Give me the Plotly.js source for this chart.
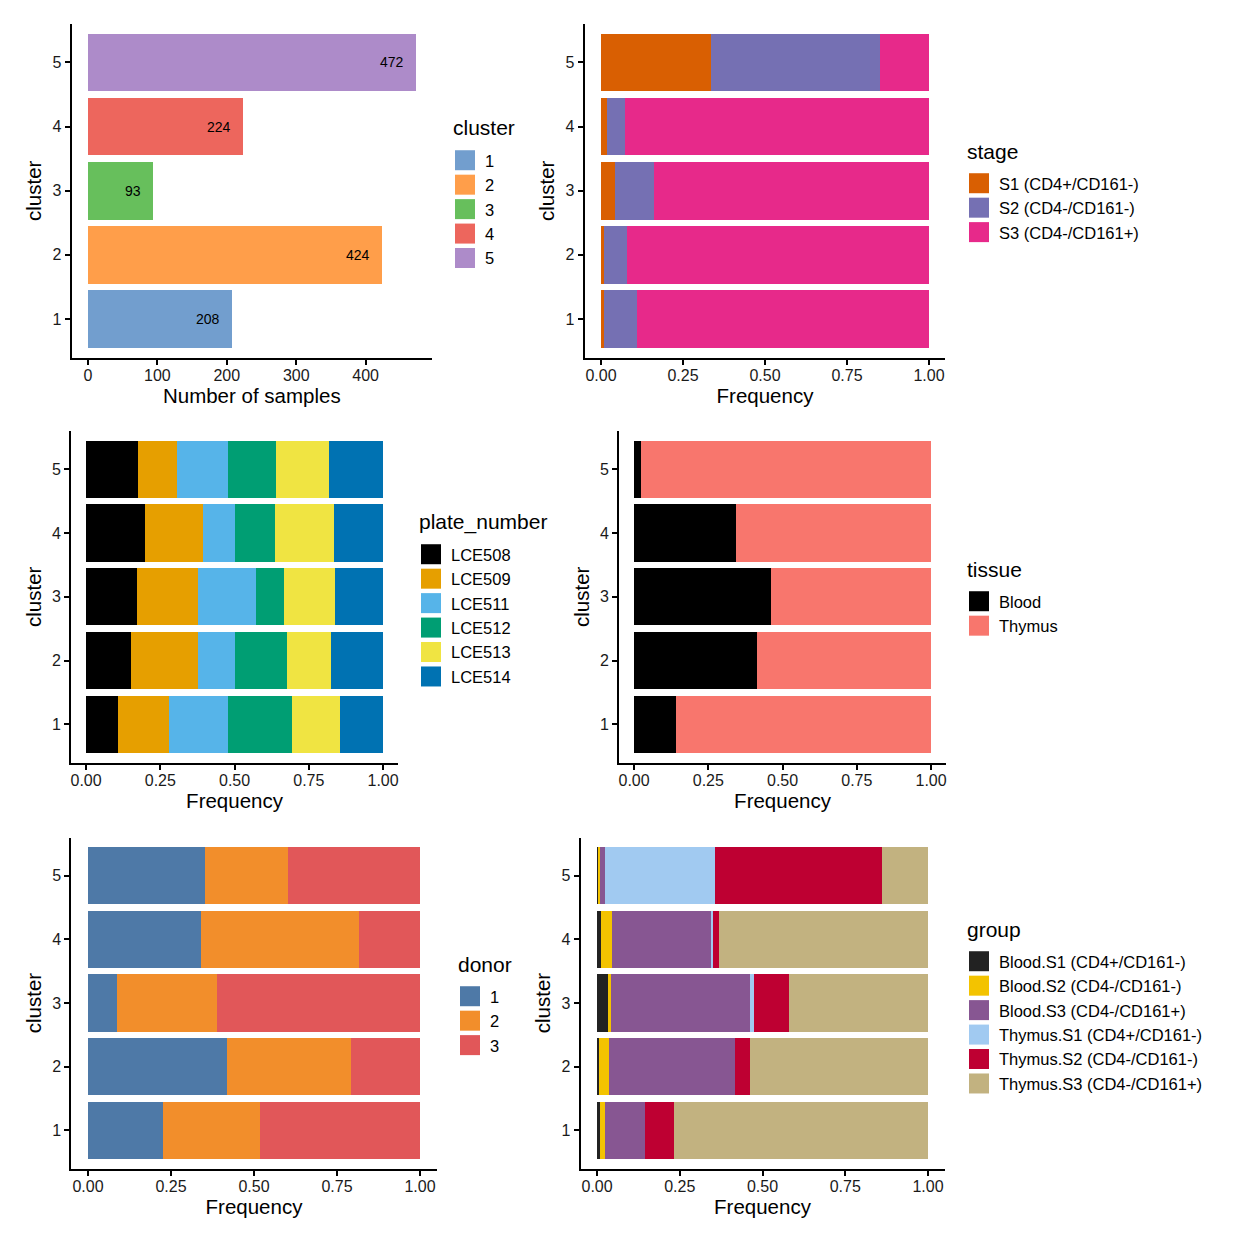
<!DOCTYPE html>
<html>
<head>
<meta charset="utf-8">
<script src="https://cdn.plot.ly/plotly-3.0.1.min.js"></script>
<style>html,body{margin:0;padding:0;background:#fff;}#chart{width:1248px;height:1248px;}</style>
</head>
<body>
<div id="chart"></div>
<script>
// ---------------- data ----------------
const clusters = [1, 2, 3, 4, 5];
const clusterNames = ['1', '2', '3', '4', '5'];
const counts = [208, 424, 93, 224, 472];

const stageNames = ['S1 (CD4+/CD161-)', 'S2 (CD4-/CD161-)', 'S3 (CD4-/CD161+)'];
const stageS1 = [0.009, 0.009, 0.043, 0.018, 0.335];
const stageS2 = [0.101, 0.070, 0.118, 0.055, 0.515];
const stageS3 = [0.890, 0.921, 0.839, 0.927, 0.150];

const plateNames = ['LCE508', 'LCE509', 'LCE511', 'LCE512', 'LCE513', 'LCE514'];
const plate508 = [0.108, 0.152, 0.172, 0.199, 0.175];
const plate509 = [0.171, 0.224, 0.204, 0.195, 0.131];
const plate511 = [0.199, 0.126, 0.196, 0.108, 0.172];
const plate512 = [0.216, 0.175, 0.095, 0.134, 0.162];
const plate513 = [0.161, 0.148, 0.171, 0.199, 0.178];
const plate514 = [0.145, 0.175, 0.162, 0.165, 0.182];

const tissueNames = ['Blood', 'Thymus'];
const tissueBlood = [0.141, 0.414, 0.461, 0.343, 0.024];
const tissueThymus = [0.859, 0.586, 0.539, 0.657, 0.976];

const donorNames = ['1', '2', '3'];
const donor1 = [0.226, 0.419, 0.087, 0.340, 0.352];
const donor2 = [0.292, 0.373, 0.302, 0.476, 0.250];
const donor3 = [0.482, 0.208, 0.611, 0.184, 0.398];

const groupNames = ['Blood.S1 (CD4+/CD161-)', 'Blood.S2 (CD4-/CD161-)', 'Blood.S3 (CD4-/CD161+)',
                    'Thymus.S1 (CD4+/CD161-)', 'Thymus.S2 (CD4-/CD161-)', 'Thymus.S3 (CD4-/CD161+)'];
const groupBS1 = [0.009, 0.006, 0.033, 0.012, 0.003];
const groupBS2 = [0.015, 0.030, 0.009, 0.033, 0.006];
const groupBS3 = [0.121, 0.380, 0.419, 0.298, 0.015];
const groupTS1 = [0.000, 0.000, 0.012, 0.006, 0.331];
const groupTS2 = [0.087, 0.045, 0.108, 0.021, 0.506];
const groupTS3 = [0.768, 0.539, 0.419, 0.630, 0.139];

const legendTitles = ['cluster', 'stage', 'plate_number', 'tissue', 'donor', 'group'];

// ---------------- styles ----------------
const FONT = 'Liberation Sans, Arial, Helvetica, sans-serif';
const clusterColors = ['#729ECE', '#FF9E4A', '#67BF5C', '#ED665D', '#AD8BC9'];
const stageColors = ['#D95F02', '#7570B3', '#E7298A'];
const plateColors = ['#000000', '#E69F00', '#56B4E9', '#009E73', '#F0E442', '#0072B2'];
const tissueColors = ['#000000', '#F8766D'];
const donorColors = ['#4E79A7', '#F28E2B', '#E15759'];
const groupColors = ['#222222', '#F3C300', '#875692', '#A1CAF1', '#BE0032', '#C2B280'];

const W = 1248, H = 1248;
const px = v => v / W;
const py = v => 1 - v / H;

const traces = [];
function addStack(names, series, colors, axisIdx, legendId) {
  series.forEach((vals, i) => {
    traces.push({
      type: 'bar', orientation: 'h',
      x: vals, y: clusters, name: names[i],
      marker: {color: colors[i], line: {width: 0}},
      width: 0.9,
      xaxis: 'x' + (axisIdx === 1 ? '' : axisIdx),
      yaxis: 'y' + (axisIdx === 1 ? '' : axisIdx),
      legend: legendId
    });
  });
}

// panel 1: counts per cluster (one trace per cluster)
clusters.forEach((c, i) => {
  traces.push({
    type: 'bar', orientation: 'h', x: [counts[i]], y: [c], name: clusterNames[i],
    marker: {color: clusterColors[i], line: {width: 0}}, width: 0.9,
    xaxis: 'x', yaxis: 'y', legend: 'legend'
  });
});
addStack(stageNames, [stageS1, stageS2, stageS3], stageColors, 2, 'legend2');
addStack(plateNames, [plate508, plate509, plate511, plate512, plate513, plate514], plateColors, 3, 'legend3');
addStack(tissueNames, [tissueBlood, tissueThymus], tissueColors, 4, 'legend4');
addStack(donorNames, [donor1, donor2, donor3], donorColors, 5, 'legend5');
addStack(groupNames, [groupBS1, groupBS2, groupBS3, groupTS1, groupTS2, groupTS3], groupColors, 6, 'legend6');

// domains in px
const xDom = {1: [71.6, 432], 2: [584.6, 945.4], 3: [71.2, 397.9], 4: [619.2, 945.9], 5: [71.4, 436.6], 6: [580.5, 944.5]};
const yDom = {1: [24, 357.5], 2: [24, 357.5], 3: [431, 762.5], 4: [431, 762.5], 5: [837.6, 1168.5], 6: [837.6, 1168.5]};
const xTitles = {1: 'Number of samples', 2: 'Frequency', 3: 'Frequency', 4: 'Frequency', 5: 'Frequency', 6: 'Frequency'};

const layout = {
  width: W, height: H,
  margin: {l: 0, r: 0, t: 0, b: 0},
  paper_bgcolor: '#ffffff', plot_bgcolor: '#ffffff',
  barmode: 'stack', bargap: 0.1,
  font: {family: FONT, color: '#000000', size: 16},
  showlegend: true,
  hovermode: false,
  annotations: []
};

for (let k = 1; k <= 6; k++) {
  const sx = k === 1 ? '' : String(k);
  const common = {
    showline: true, linecolor: '#000000', linewidth: 2,
    ticks: 'outside', ticklen: 5, tickwidth: 2, tickcolor: '#000000',
    showgrid: false, zeroline: false, fixedrange: true,
    tickfont: {family: FONT, size: 16, color: '#1a1a1a'}
  };
  layout['xaxis' + sx] = Object.assign({}, common, {
    domain: [px(xDom[k][0]), px(xDom[k][1])],
    anchor: 'y' + sx,
    range: k === 1 ? [-23.6, 495.6] : [-0.05, 1.05],
    tickmode: 'array',
    tickvals: k === 1 ? [0, 100, 200, 300, 400] : [0, 0.25, 0.5, 0.75, 1],
    ticktext: k === 1 ? ['0', '100', '200', '300', '400'] : ['0.00', '0.25', '0.50', '0.75', '1.00'],
    ticklabelstandoff: -3,
    title: {text: xTitles[k], font: {family: FONT, size: 20.5, color: '#000000'}, standoff: 6}
  });
  layout['yaxis' + sx] = Object.assign({}, common, {
    domain: [py(yDom[k][1]), py(yDom[k][0])],
    anchor: 'x' + sx,
    range: [0.4, 5.6],
    tickmode: 'array', tickvals: clusters, ticktext: clusterNames,
    title: {text: 'cluster', font: {family: FONT, size: 20.5, color: '#000000'}, standoff: 5}
  });
}

// bar labels panel 1
clusters.forEach((c, i) => {
  layout.annotations.push({
    x: counts[i], y: c, xref: 'x', yref: 'y', text: String(counts[i]),
    showarrow: false, xanchor: 'right', yanchor: 'middle', xshift: -10,
    font: {family: FONT, size: 14, color: '#000000'}
  });
});

// legends: [left x of key, title centre y, first item centre y]
const legPos = [[453, 128, 160], [967, 151, 183], [419, 522, 554], [967, 569, 601], [458, 964, 996], [967, 929, 961]];
const legIds = ['legend', 'legend2', 'legend3', 'legend4', 'legend5', 'legend6'];
legIds.forEach((id, i) => {
  const [lx, ty, iy] = legPos[i];
  layout[id] = {
    x: px(lx - 8), y: py(iy - 17), xanchor: 'left', yanchor: 'top',
    bgcolor: 'rgba(0,0,0,0)', borderwidth: 0,
    font: {family: FONT, size: 16.5, color: '#000000'},
    traceorder: 'normal', tracegroupgap: 0
  };
  layout.annotations.push({
    x: px(lx - 2), y: py(ty), xref: 'paper', yref: 'paper', text: legendTitles[i],
    showarrow: false, xanchor: 'left', yanchor: 'middle',
    font: {family: FONT, size: 21, color: '#000000'}
  });
});

function bigKeys() {
  document.querySelectorAll('.legendpoints path').forEach(p => {
    p.setAttribute('d', 'M10,10H-10V-10H10Z');
  });
}
Plotly.newPlot('chart', traces, layout, {staticPlot: true, displayModeBar: false}).then(() => {
  bigKeys();
  setTimeout(bigKeys, 50);
  setTimeout(bigKeys, 300);
});
</script>
</body>
</html>
